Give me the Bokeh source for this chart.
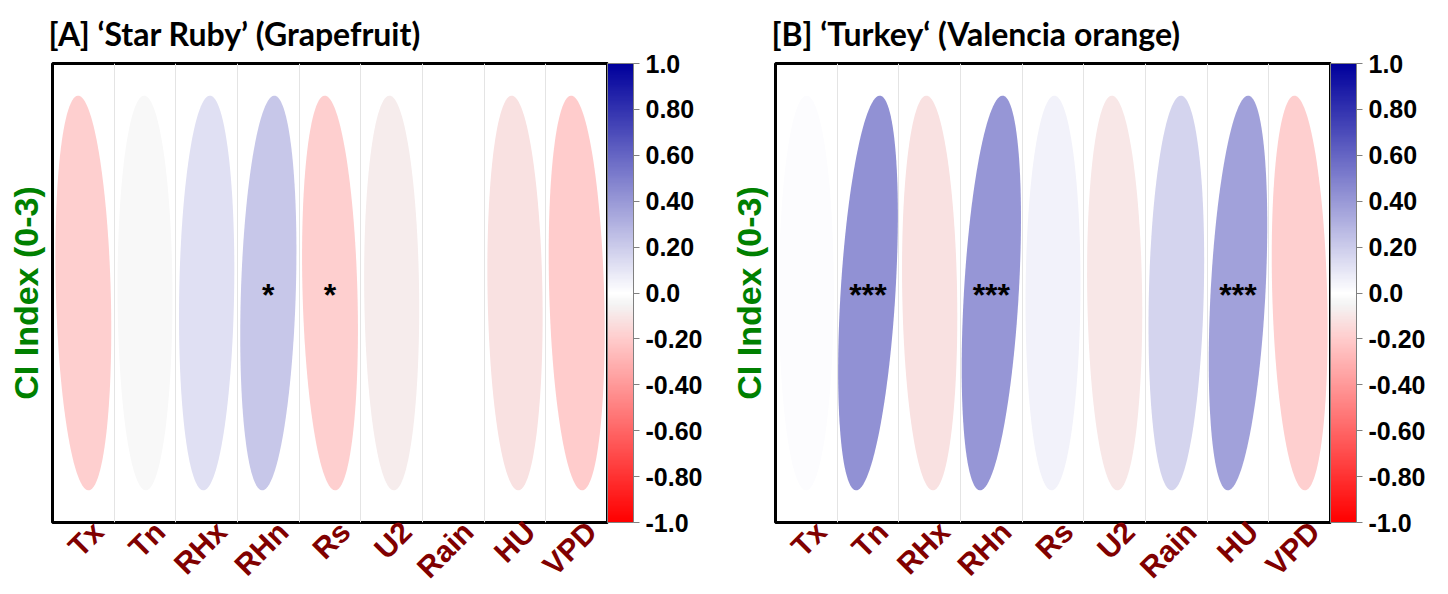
import math
import numpy as np
from bokeh.plotting import figure
from bokeh.layouts import row
from bokeh.models import (ColumnDataSource, LinearColorMapper, ColorBar, FixedTicker,
                          CustomJSTickFormatter)
from bokeh.transform import transform
from bokeh.core.properties import value
from bokeh.embed import file_html
from bokeh.resources import INLINE

# ---------------- data ----------------
variables = ["Tx", "Tn", "RHx", "RHn", "Rs", "U2", "Rain", "HU", "VPD"]
corr_A = [-0.19, -0.03, 0.12, 0.22, -0.19, -0.08, 0.0, -0.12, -0.20]
corr_B = [0.01, 0.43, -0.12, 0.41, 0.05, -0.10, 0.17, 0.37, -0.19]
sig_A = ["", "", "", "*", "*", "", "", "", ""]
sig_B = ["", "***", "", "***", "", "", "", "***", ""]
title_A = "[A] \u2018Star Ruby\u2019 (Grapefruit)"
title_B = "[B] \u2018Turkey\u2018 (Valencia orange)"
y_title = "CI Index (0-3)"
cbar_ticks = [-1.0, -0.8, -0.6, -0.4, -0.2, 0.0, 0.2, 0.4, 0.6, 0.8, 1.0]

# ---------------- palette (red - white - dark blue) ----------------
stops = [(-1.0, (255, 0, 0)), (-0.2, (255, 204, 204)), (-0.05, (244, 244, 244)),
         (0.0, (255, 255, 255)), (1.0, (0, 0, 156))]

def build_palette(n=201):
    pal = []
    for k in range(n):
        v = -1 + 2 * k / (n - 1)
        for (a, ca), (b, cb) in zip(stops[:-1], stops[1:]):
            if a <= v <= b:
                t = (v - a) / (b - a) if b > a else 0
                c = [round(ca[j] + (cb[j] - ca[j]) * t) for j in range(3)]
                pal.append("#%02x%02x%02x" % tuple(c))
                break
    return pal

palette = build_palette()

FRAME_W = 555
FRAME_H = 459
HALF_W = 0.445
HALF_H = 0.43
LABEL_SHIFT = 0.24
FONT = "Liberation Sans"


def make_panel(title, corr, sig, left_border, right_border):
    mapper = LinearColorMapper(palette=palette, low=-1, high=1)
    p = figure(frame_width=FRAME_W, frame_height=FRAME_H,
               x_range=(0.5, len(variables) + 0.5), y_range=(0, 1),
               output_backend="svg", toolbar_location=None,
               min_border_left=left_border, min_border_right=right_border,
               min_border_top=63, min_border_bottom=4)
    t = np.linspace(0, 2 * math.pi, 120)
    xs, ys = [], []
    for i, r in enumerate(corr):
        c = i + 1
        xs.append(list(c + HALF_W * (np.cos(t) + r * np.sin(t))))
        ys.append(list(0.5 + HALF_H * np.sin(t)))
    src = ColumnDataSource(dict(xs=xs, ys=ys, r=corr))
    p.patches("xs", "ys", source=src, fill_color=transform("r", mapper),
              line_color=None)

    tsrc = ColumnDataSource(dict(x=list(range(1, len(variables) + 1)),
                                 y=[0.5] * len(variables), s=sig))
    p.text("x", "y", text="s", source=tsrc, text_align="center",
           text_baseline="middle", text_font=value(FONT),
           text_font_size="32px", text_font_style="bold", text_color="black",
           y_offset=2)

    p.title.text = title
    p.title.text_font = "Lato"
    p.title.text_font_size = "32px"
    p.title.text_font_style = "bold"
    p.title.text_color = "black"
    p.title.standoff = 21
    p.title.offset = -4

    p.outline_line_color = "black"
    p.outline_line_width = 3
    p.outline_line_alpha = 1

    p.xgrid.ticker = FixedTicker(ticks=[k + 0.5 for k in range(1, len(variables))])
    p.xgrid.grid_line_color = "#e4e4e4"
    p.xgrid.grid_line_width = 1
    p.ygrid.grid_line_color = None

    p.xaxis.ticker = FixedTicker(ticks=[k + LABEL_SHIFT for k in range(1, len(variables) + 1)])
    p.xaxis.formatter = CustomJSTickFormatter(args=dict(labels=variables, shift=LABEL_SHIFT),
                                              code="return labels[Math.round(tick - shift) - 1];")
    p.xaxis.major_label_orientation = math.pi / 4
    p.xaxis.major_label_text_font = FONT
    p.xaxis.major_label_text_font_size = "30px"
    p.xaxis.major_label_text_font_style = "bold"
    p.xaxis.major_label_text_color = "#800000"
    p.xaxis.major_label_standoff = 4
    p.xaxis.axis_line_color = None
    p.xaxis.major_tick_line_color = None
    p.xaxis.minor_tick_line_color = None
    p.xaxis.major_tick_out = 0
    p.xaxis.major_tick_in = 0

    p.yaxis.ticker = FixedTicker(ticks=[])
    p.yaxis.axis_label = y_title
    p.yaxis.axis_label_text_font = FONT
    p.yaxis.axis_label_text_font_size = "34px"
    p.yaxis.axis_label_text_font_style = "bold"
    p.yaxis.axis_label_text_color = "#008000"
    p.yaxis.axis_label_standoff = 8
    p.yaxis.axis_line_color = None
    p.yaxis.major_tick_line_color = None
    p.yaxis.minor_tick_line_color = None
    p.yaxis.major_label_text_font_size = "0px"

    cb = ColorBar(color_mapper=mapper, ticker=FixedTicker(ticks=cbar_ticks),
                  formatter=CustomJSTickFormatter(code="""
                      if (Math.abs(tick) < 1e-9) return '0.0';
                      if (Math.abs(Math.abs(tick) - 1) < 1e-9) return tick > 0 ? '1.0' : '-1.0';
                      return tick.toFixed(2);"""),
                  width=26, height=FRAME_H, padding=0, margin=5,
                  location=(0, 0),
                  bar_line_color="#808080", bar_line_width=1,
                  major_tick_line_color="#808080", major_tick_in=0, major_tick_out=6,
                  minor_tick_line_color=None,
                  label_standoff=6,
                  major_label_text_font=FONT,
                  major_label_text_font_size="25px",
                  major_label_text_font_style="bold",
                  major_label_text_color="black")
    p.add_layout(cb, "right")
    p.background_fill_color = "white"
    p.border_fill_color = "white"
    return p


pA = make_panel(title_A, corr_A, sig_A, 52, 117)
pB = make_panel(title_B, corr_B, sig_B, 51, 118)
layout = row(pA, pB)

open("out.html", "w").write(file_html(layout, INLINE))
